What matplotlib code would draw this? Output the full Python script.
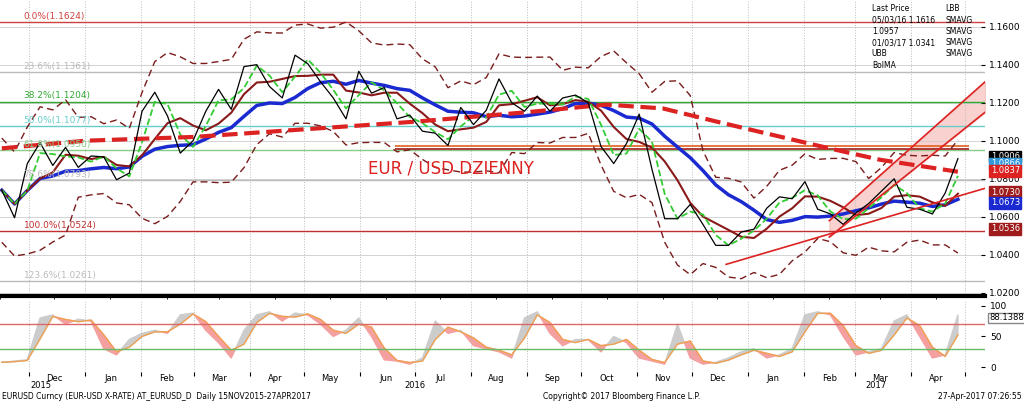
import numpy as np
import pandas as pd
import matplotlib.pyplot as plt
import matplotlib.dates as mdates

# weekly closes EUR/USD, mid Nov 2015 - end Apr 2017
close = [1.0740, 1.0595, 1.0880, 1.0990, 1.0870, 1.0965, 1.0860, 1.0920, 1.0915, 1.0795,
         1.0830, 1.1155, 1.1255, 1.1130, 1.0935, 1.1000, 1.1155, 1.1270, 1.1165, 1.1390,
         1.1400, 1.1285, 1.1225, 1.1450, 1.1405, 1.1310, 1.1225, 1.1115, 1.1365, 1.1250,
         1.1280, 1.1115, 1.1135, 1.1050, 1.1040, 1.0975, 1.1175, 1.1085, 1.1160, 1.1325,
         1.1200, 1.1155, 1.1235, 1.1155, 1.1225, 1.1240, 1.1200, 1.0970, 1.0880, 1.0985,
         1.1140, 1.0850, 1.0590, 1.0590, 1.0665, 1.0560, 1.0450, 1.0450, 1.0520, 1.0535,
         1.0645, 1.0705, 1.0695, 1.0785, 1.0640, 1.0615, 1.0560, 1.0620, 1.0670, 1.0735,
         1.0800, 1.0650, 1.0640, 1.0615, 1.0725, 1.0906]
sma200_dates = ["2015-11-16", "2016-01-01", "2016-03-01", "2016-05-01", "2016-07-01", "2016-09-01",
                "2016-10-15", "2016-11-15", "2016-12-15", "2017-01-15", "2017-02-15", "2017-03-15", "2017-04-27"]
sma200 = [1.096, 1.100, 1.102, 1.106, 1.110, 1.115, 1.119, 1.117, 1.110, 1.103, 1.096, 1.090, 1.0837]
stoch = [8, 10, 12, 80, 85, 70, 78, 75, 30, 20, 45, 55, 60, 55, 85, 88, 60, 40, 15, 60,
         85, 90, 75, 88, 85, 70, 50, 60, 80, 50, 12, 10, 5, 15, 75, 55, 60, 35, 30, 25,
         15, 80, 90, 55, 35, 45, 45, 25, 50, 40, 15, 10, 5, 70, 15, 5, 8, 15, 25, 30,
         15, 20, 30, 85, 90, 85, 50, 20, 25, 30, 75, 85, 50, 15, 20, 85]
fib_levels = [1.1624, 1.1361, 1.1204, 1.1077, 1.0950, 1.0793, 1.0524, 1.0261]
fib_labels = ["0.0%(1.1624)", "23.6%(1.1361)", "38.2%(1.1204)", "50.0%(1.1077)", "61.8%(1.0950)",
              "78.6%(1.0793)", "100.0%(1.0524)", "123.6%(1.0261)"]
fib_colors = ["#d04040", "#bbbbbb", "#33aa33", "#66cccc", "#88cc88", "#bbbbbb", "#c03030", "#bbbbbb"]
right_labels = [1.0906, 1.0866, 1.0837, 1.0730, 1.0673, 1.0536]
right_colors = ["black", "#3399dd", "#dd2222", "#a01c1c", "#1a2ad0", "#a01c1c"]
right_pos = [1.0918, 1.0880, 1.0842, 1.0730, 1.0673, 1.0536]

start, end = pd.Timestamp("2015-11-16"), pd.Timestamp("2017-04-27")
dates = pd.date_range(start, end, periods=len(close))
s = pd.Series(close, index=dates)

fig = plt.figure(figsize=(10.24, 4.01), dpi=100)
ax = fig.add_axes([0.0, 0.262, 0.962, 0.738])
ax2 = fig.add_axes([0.0, 0.072, 0.962, 0.178], sharex=ax)

# fibonacci levels
for lev, lab, c in zip(fib_levels, fib_labels, fib_colors):
    ax.axhline(lev, color=c, lw=1)
    ax.text(pd.Timestamp("2015-11-28"), lev + 0.0008, lab, color=c, fontsize=6.5, va="bottom")
ax.hlines([1.0957, 1.0970], pd.Timestamp("2016-06-20"), end + pd.Timedelta(days=6),
          colors=["#a01c1c", "#e06020"], lw=1.2)

# bollinger + SMAs
mid = s.rolling(5, min_periods=1).mean()
sd = s.rolling(5, min_periods=2).std().bfill()
ax.plot(dates, mid + 1.5 * sd + 0.012, color="#7a1c1c", ls=(0, (5, 3)), lw=1)
ax.plot(dates, mid - 1.5 * sd - 0.012, color="#7a1c1c", ls=(0, (5, 3)), lw=1)
ax.plot(dates, s.rolling(10, min_periods=1).mean(), color="#1a2ad0", lw=2.5)
ax.plot(dates, s.rolling(4, min_periods=1).mean(), color="#8a1a1a", lw=1.5)
ax.plot(dates, s.rolling(2, min_periods=1).mean(), color="#33cc33", ls="--", lw=1.3)
ax.plot(pd.to_datetime(sma200_dates), sma200, color="#dd2222", ls="--", lw=3)
ax.plot(dates, close, color="black", lw=0.9)

# channels
d1, d2 = pd.Timestamp("2017-02-15"), end + pd.Timedelta(days=15)
ax.fill_between([d1, d2], [1.0494, 1.1150], [1.0580, 1.1310], color="#f5b5b0", alpha=0.6)
ax.plot([d1, d2], [1.0494, 1.1150], color="#dd2222", lw=1.2)
ax.plot([d1, d2], [1.0580, 1.1310], color="#dd2222", lw=1.2)
ax.plot([pd.Timestamp("2016-12-20"), d2], [1.0350, 1.0750], color="#dd2222", lw=1.2)

ax.text(pd.Timestamp("2016-06-05"), 1.083, "EUR / USD DZIENNY", color="#dd2222", fontsize=12)

# right price labels
for v, p, c in zip(right_labels, right_pos, right_colors):
    ax.annotate(f"{v:.4f}", xy=(1.0, p), xycoords=("axes fraction", "data"), xytext=(4, 0),
                textcoords="offset points", va="center", fontsize=6, color="white",
                bbox=dict(boxstyle="square,pad=0.15", fc=c, ec=c), annotation_clip=False)

ax.set_ylim(1.0184, 1.174)
ax.set_xlim(start - pd.Timedelta(days=1), end + pd.Timedelta(days=15))
ax.yaxis.tick_right()
ax.set_yticks(np.arange(1.02, 1.161, 0.02))
ax.yaxis.set_major_formatter(plt.FuncFormatter(lambda v, p: f"{v:.4f}"))
ax.tick_params(axis="y", labelsize=6.5, direction="in", length=3, pad=3)
ax.tick_params(axis="x", bottom=False, labelbottom=False)
ax.grid(axis="y", color="#cccccc", lw=0.6)
ax.grid(axis="x", color="#bbbbbb", ls=":", lw=0.7)
for sp in ax.spines.values():
    sp.set_visible(False)
ax.spines["bottom"].set_visible(True)
ax.spines["bottom"].set_linewidth(3)

# legend box
lg = ("Last Price", "05/03/16 1.1616", "1.0957", "01/03/17 1.0341", "UBB", "BolMA")
for i, t in enumerate(lg):
    ax.text(0.885, 0.985 - i * 0.038, t, transform=ax.transAxes, fontsize=5.5, va="top")
for i, t in enumerate(["LBB", "SMAVG", "SMAVG", "SMAVG", "SMAVG"]):
    ax.text(0.96, 0.985 - i * 0.038, t, transform=ax.transAxes, fontsize=5.5, va="top")

# stochastic
sdates = pd.date_range(start, end, periods=len(stoch))
st = pd.Series(stoch, index=sdates, dtype=float)
stk = st.rolling(2, min_periods=1).mean()
ax2.fill_between(sdates, st, stk, where=st >= stk, color="#cccccc", interpolate=True)
ax2.fill_between(sdates, st, stk, where=st < stk, color="#f5a0a0", interpolate=True)
ax2.plot(sdates, stk, color="#f0a050", lw=1)
ax2.axhline(70, color="#dd6666", lw=1)
ax2.axhline(30, color="#66bb66", lw=1)
ax2.set_ylim(-8, 108)
ax2.yaxis.tick_right()
ax2.set_yticks([0, 50, 100])
ax2.tick_params(axis="y", labelsize=6.5, direction="in", length=3)
ax2.grid(axis="x", color="#bbbbbb", ls=":", lw=0.7)
ax2.annotate("88.1388", xy=(1.0, 80), xycoords=("axes fraction", "data"), xytext=(3, 0),
             textcoords="offset points", va="center", fontsize=6,
             bbox=dict(boxstyle="square,pad=0.1", fc="white", ec="#888888"), annotation_clip=False)
for sp in ax2.spines.values():
    sp.set_visible(False)
ax2.xaxis.set_major_locator(mdates.MonthLocator())
ax2.xaxis.set_minor_locator(mdates.MonthLocator(bymonthday=15))
ax2.xaxis.set_major_formatter(plt.NullFormatter())
ax2.xaxis.set_minor_formatter(plt.FuncFormatter(
    lambda v, p: "" if mdates.num2date(v).month == 11 and mdates.num2date(v).year == 2015
    else mdates.num2date(v).strftime("%b")))
ax2.tick_params(axis="x", which="minor", length=0, labelsize=6, pad=1)
ax2.tick_params(axis="x", which="major", length=3)
ax.xaxis.set_major_locator(mdates.MonthLocator())

fig.text(0.04, 0.033, "2015", fontsize=6, ha="center")
fig.text(0.405, 0.033, "2016", fontsize=6, ha="center")
fig.text(0.855, 0.033, "2017", fontsize=6, ha="center")
fig.text(0.002, 0.004, "EURUSD Curncy (EUR-USD X-RATE) AT_EURUSD_D  Daily 15NOV2015-27APR2017", fontsize=5.5)
fig.text(0.53, 0.004, "Copyright\u00a9 2017 Bloomberg Finance L.P.", fontsize=5.5)
fig.text(0.998, 0.004, "27-Apr-2017 07:26:55", fontsize=5.5, ha="right")

fig.savefig("out.png", dpi=100)
